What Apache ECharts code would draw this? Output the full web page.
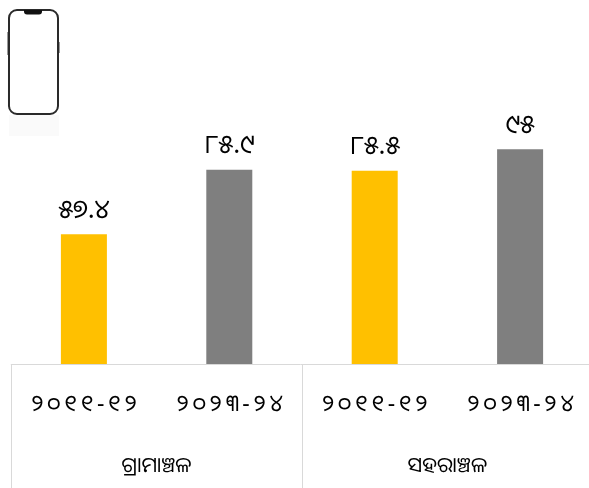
<!DOCTYPE html>
<html><head><meta charset="utf-8">
<style>html,body{margin:0;padding:0;background:#fff;overflow:hidden}#c{width:589px;height:488px}</style>
<script src="https://cdn.jsdelivr.net/npm/echarts@6/dist/echarts.min.js"></script>
</head><body><div id="c"></div>
<script>
const periods = ['୨୦୧୧-୧୨','୨୦୨୩-୨୪','୨୦୧୧-୧୨','୨୦୨୩-୨୪'];
const groups = ['ଗ୍ରାମାଞ୍ଚଳ','ସହରାଞ୍ଚଳ'];
const values = [57.4,85.9,85.5,95];
const valueLabels = ['୫୭.୪','୮୫.୯','୮୫.୫','୯୫'];
const colors = ['#FFC000','#7F7F7F','#FFC000','#7F7F7F'];
const font = '"Noto Sans","Noto Sans Oriya","DejaVu Sans",sans-serif';
// The period labels are letter-spaced in the reference; canvas text spacing is applied by font size.
const proto = CanvasRenderingContext2D.prototype, fillText0 = proto.fillText;
proto.fillText = function(t,x,y,m){
  this.letterSpacing = /(^|\s)23px/.test(this.font) ? '3.5px' : '0px';
  return m===undefined ? fillText0.call(this,t,x,y) : fillText0.call(this,t,x,y,m);
};
const chart = echarts.init(document.getElementById('c'),null,{renderer:'canvas'});
chart.setOption({
  animation:false,
  grid:{left:11.2,top:0,width:581.6,height:364,containLabel:false,outerBoundsMode:'none'},
  xAxis:[
    {type:'category',position:'bottom',data:periods,
     axisLine:{show:true,lineStyle:{color:'#D9D9D9',width:1}},axisTick:{show:false},
     axisLabel:{interval:0,margin:29,padding:[0,0,0,4],fontSize:23,color:'#000',fontFamily:font}},
    {type:'category',position:'bottom',data:groups,
     axisLine:{show:false},
     axisTick:{show:true,length:124,lineStyle:{color:'#D9D9D9',width:1}},
     axisLabel:{interval:0,margin:92,fontSize:21,color:'#000',fontFamily:font}}
  ],
  yAxis:{type:'value',min:0,max:161,show:false},
  series:[{type:'bar',xAxisIndex:0,barWidth:46,
    data:values.map((v,i)=>({value:v,itemStyle:{color:colors[i]},
      label:{show:true,position:'top',distance:11,formatter:valueLabels[i],fontSize:26,color:'#000',fontFamily:font}}))}],
  graphic:[
    {type:'rect',shape:{x:9,y:115,width:50,height:21},style:{fill:'#FAFAFA'},silent:true},
    {type:'rect',shape:{x:7,y:32,width:1.5,height:23},style:{fill:'#999'},silent:true},
    {type:'rect',shape:{x:58.5,y:42,width:1.5,height:11},style:{fill:'#999'},silent:true},
    {type:'rect',shape:{x:9,y:10,width:49,height:104,r:8},style:{fill:'#fff',stroke:'#2a2a2a',lineWidth:2},silent:true},
    {type:'rect',shape:{x:24,y:10,width:18,height:4.5,r:[0,0,3,3]},style:{fill:'#111'},silent:true}
  ]
});
</script></body></html>
